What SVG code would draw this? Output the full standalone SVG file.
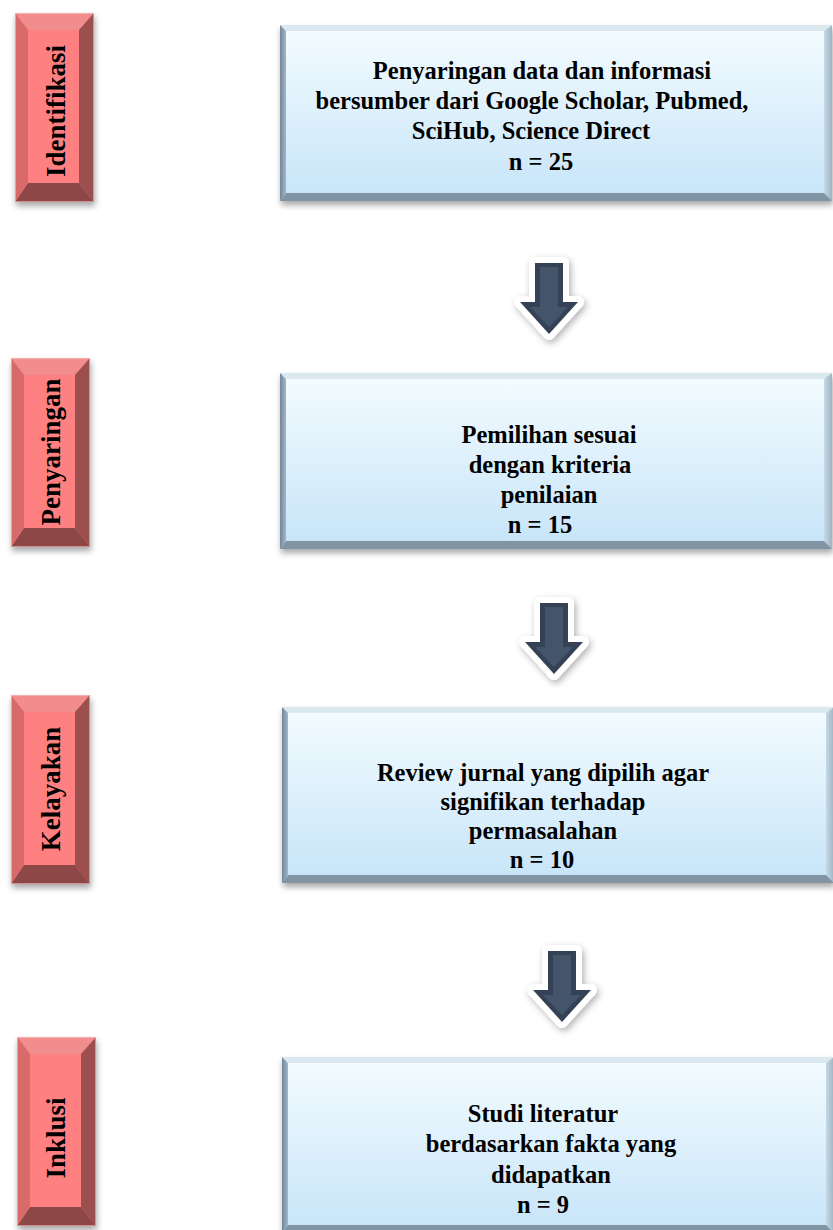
<svg xmlns="http://www.w3.org/2000/svg" xmlns:xlink="http://www.w3.org/1999/xlink" width="833" height="1230" viewBox="0 0 833 1230">
  <style>
    .boxtxt { font-family: "Liberation Serif", "Times New Roman", serif; font-weight: bold; font-size: 24.5px; fill: #000; text-anchor: middle; }
    .tabtxt { font-family: "Liberation Serif", "Times New Roman", serif; font-weight: bold; font-size: 27px; fill: #000; text-anchor: middle; }
    .arrow-out { fill: #364357; stroke: #ffffff; stroke-width: 12; stroke-linejoin: round; paint-order: stroke; }
    .arrow-in { fill: #44546b; }
  </style>
  <defs>
    <linearGradient id="faceGrad" x1="0" y1="0" x2="0" y2="1">
      <stop offset="0" stop-color="#f4fcff"/>
      <stop offset="1" stop-color="#c6e4f8"/>
    </linearGradient>
    <linearGradient id="leftBev" x1="0" y1="0" x2="1" y2="0">
      <stop offset="0" stop-color="#72879a"/>
      <stop offset="1" stop-color="#a3b7c7"/>
    </linearGradient>
    <linearGradient id="rightBev" x1="0" y1="0" x2="1" y2="0">
      <stop offset="0" stop-color="#c5d9e6"/>
      <stop offset="1" stop-color="#9fb4c3"/>
    </linearGradient>
    <filter id="shadow" x="-10%" y="-10%" width="125%" height="130%">
      <feDropShadow dx="1" dy="4" stdDeviation="3" flood-color="#000" flood-opacity="0.35"/>
    </filter>
    <filter id="arrowShadow" x="-40%" y="-40%" width="180%" height="180%">
      <feDropShadow dx="2" dy="3" stdDeviation="3.5" flood-color="#000" flood-opacity="0.3"/>
    </filter>
    <g id="tabShape" filter="url(#shadow)">
      <rect x="0" y="0" width="79" height="189" fill="#ff8080"/>
      <polygon points="0,0 79,0 64,17 13,17" fill="#f28d8d"/>
      <polygon points="79,0 79,189 64,170 64,17" fill="#9c4f4f"/>
      <polygon points="0,189 79,189 64,170 13,170" fill="#8d4646"/>
      <polygon points="0,0 13,17 13,170 0,189" fill="#d86b6b"/>
      <rect x="0.5" y="0.5" width="78" height="188" fill="none" stroke="#f7c4c4" stroke-width="1" stroke-opacity="0.6"/>
    </g>
    <g id="boxShape" filter="url(#shadow)">
      <rect x="0" y="0" width="552" height="176" fill="url(#faceGrad)"/>
      <polygon points="0,0 552,0 544,6 6,6" fill="#dbe8f0"/>
      <polygon points="552,0 552,176 544,168 544,6" fill="url(#rightBev)"/>
      <polygon points="0,176 552,176 544,168 6,168" fill="#8194a4"/>
      <polygon points="0,0 6,6 6,168 0,176" fill="url(#leftBev)"/>
    </g>
    <g id="arrowShape">
      <path class="arrow-out" filter="url(#arrowShadow)" d="M -14 0 H 14 V 39 H 29 L 0 71 L -29 39 H -14 Z"/>
      <path class="arrow-in" d="M -9 4 H 9 V 44 H 19 L 0 64 L -19 44 H -9 Z"/>
    </g>
  </defs>

  <rect x="0" y="0" width="833" height="1230" fill="#ffffff"/>

  <g id="connectors">
    <use xlink:href="#arrowShape" href="#arrowShape" transform="translate(549,263)"/>
    <use xlink:href="#arrowShape" href="#arrowShape" transform="translate(554,603)"/>
    <use xlink:href="#arrowShape" href="#arrowShape" transform="translate(562,951)"/>
  </g>

  <g id="tab-identifikasi">
    <use xlink:href="#tabShape" href="#tabShape" x="15" y="13"/>
    <text class="tabtxt" transform="translate(65,111) rotate(-90)">Identifikasi</text>
  </g>
  <g id="tab-penyaringan">
    <use xlink:href="#tabShape" href="#tabShape" x="11" y="358"/>
    <text class="tabtxt" transform="translate(60,452) rotate(-90)">Penyaringan</text>
  </g>
  <g id="tab-kelayakan">
    <use xlink:href="#tabShape" href="#tabShape" x="11" y="695"/>
    <text class="tabtxt" transform="translate(60,789) rotate(-90)">Kelayakan</text>
  </g>
  <g id="tab-inklusi">
    <use xlink:href="#tabShape" href="#tabShape" x="17" y="1037"/>
    <text class="tabtxt" transform="translate(65,1138) rotate(-90)">Inklusi</text>
  </g>

  <g id="box-identifikasi">
    <use xlink:href="#boxShape" href="#boxShape" x="280" y="25"/>
    <text class="boxtxt" x="542" y="79">Penyaringan data dan informasi</text>
    <text class="boxtxt" x="532" y="109">bersumber dari Google Scholar, Pubmed,</text>
    <text class="boxtxt" x="531" y="139">SciHub, Science Direct</text>
    <text class="boxtxt" x="541" y="170">n = 25</text>
  </g>
  <g id="box-penyaringan">
    <use xlink:href="#boxShape" href="#boxShape" x="280" y="373"/>
    <text class="boxtxt" x="549" y="443">Pemilihan sesuai</text>
    <text class="boxtxt" x="550" y="473">dengan kriteria</text>
    <text class="boxtxt" x="549" y="503">penilaian</text>
    <text class="boxtxt" x="540" y="533">n = 15</text>
  </g>
  <g id="box-kelayakan">
    <use xlink:href="#boxShape" href="#boxShape" x="282" y="707"/>
    <text class="boxtxt" x="543" y="781">Review jurnal yang dipilih agar</text>
    <text class="boxtxt" x="543" y="810">signifikan terhadap</text>
    <text class="boxtxt" x="543" y="839">permasalahan</text>
    <text class="boxtxt" x="542" y="868">n = 10</text>
  </g>
  <g id="box-inklusi">
    <use xlink:href="#boxShape" href="#boxShape" x="282" y="1057"/>
    <text class="boxtxt" x="543" y="1122">Studi literatur</text>
    <text class="boxtxt" x="551" y="1152">berdasarkan fakta yang</text>
    <text class="boxtxt" x="551" y="1183">didapatkan</text>
    <text class="boxtxt" x="543" y="1213">n = 9</text>
  </g>
</svg>
